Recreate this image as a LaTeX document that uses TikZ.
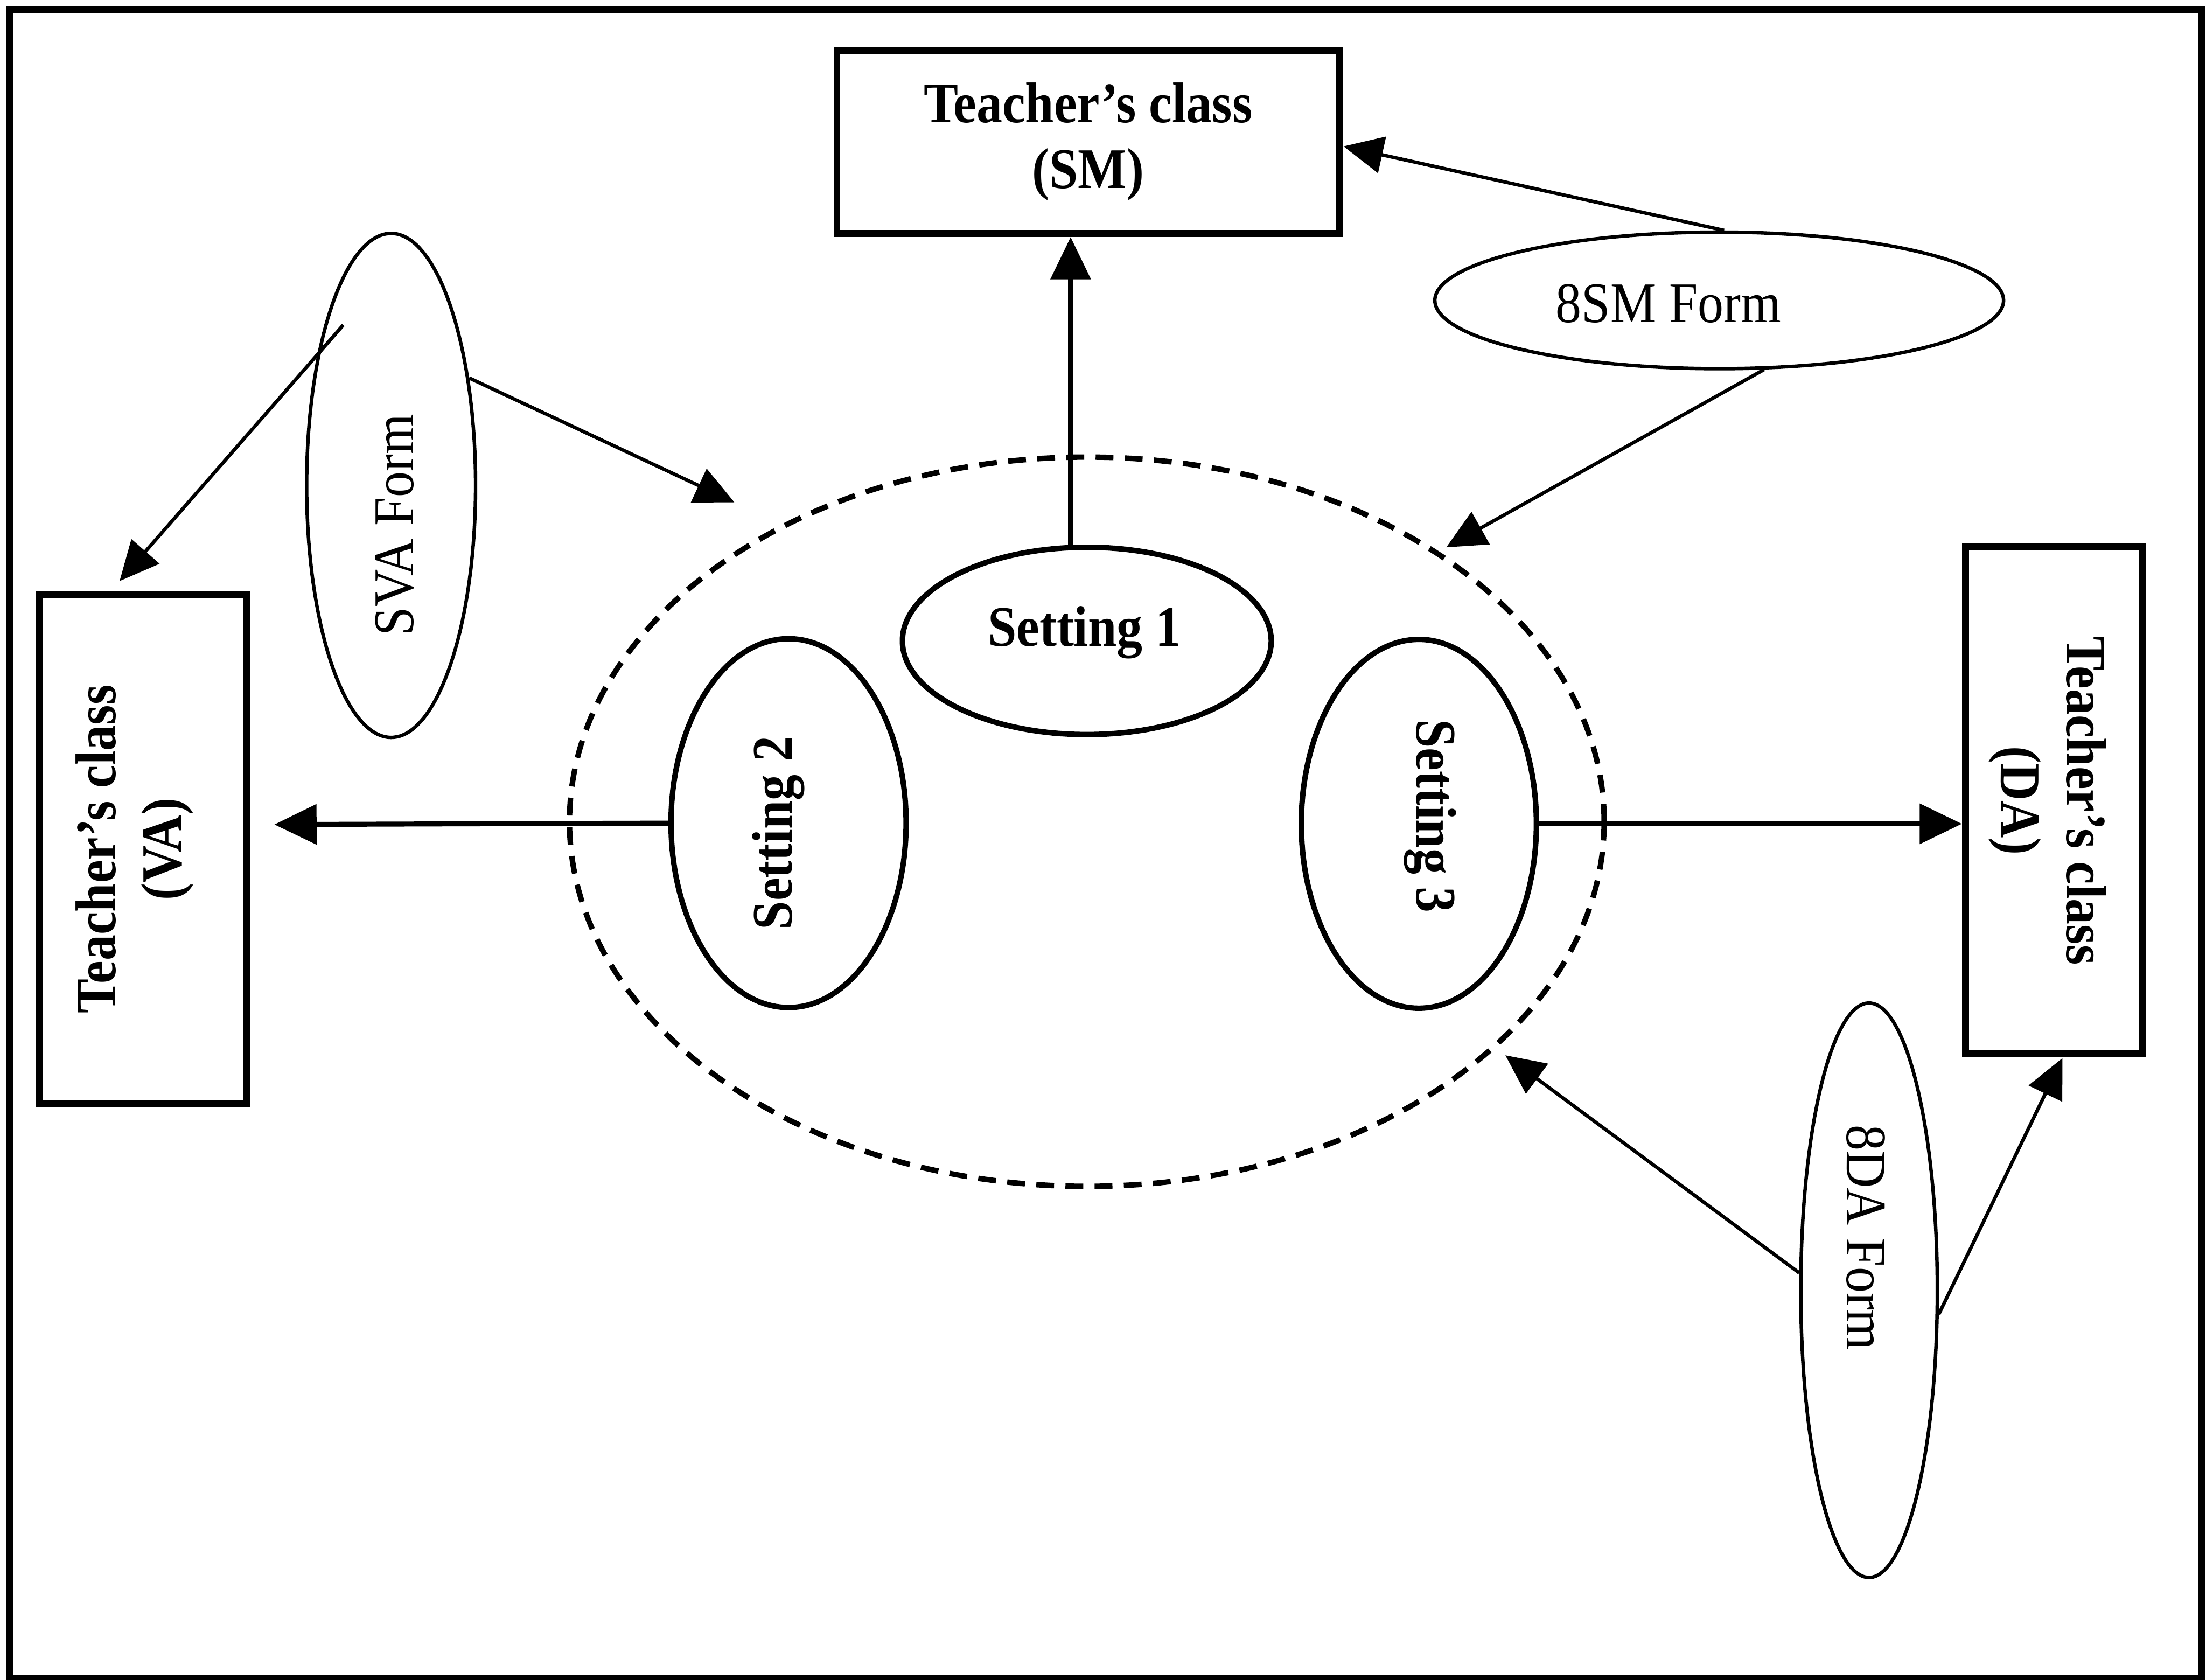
\documentclass[tikz,border=0pt]{standalone}
\usepackage{fontspec}
\setmainfont{Liberation Serif}[FakeStretch=0.9]
\usetikzlibrary{arrows.meta,shapes.geometric}
\newcommand\twoline[2]{\begin{tabular}{@{}c@{}}#1\\#2\end{tabular}}
\begin{document}
\begin{tikzpicture}[x=0.01cm,y=-0.01cm,
  txt/.style={font=\fontsize{11.6pt}{13.3pt}\selectfont},
  boldtxt/.style={font=\fontsize{11.6pt}{13.3pt}\selectfont\bfseries},
  classbox/.style={draw,rectangle,line width=1.4pt,inner sep=0pt},
  classlbl/.style={inner sep=0pt,boldtxt},
  setting/.style={draw,ellipse,line width=1.1pt,inner sep=0pt},
  settinglbl/.style={inner sep=0pt,anchor=base,boldtxt},
  group/.style={draw,ellipse,line width=1.1pt,inner sep=0pt,dash pattern=on 3.6pt off 2.3pt},
  form/.style={draw,ellipse,line width=0.7pt,inner sep=0pt},
  formtext/.style={inner sep=0pt,anchor=base,txt},
  link/.style={line width=1pt,-{Triangle[length=0.3cm,width=0.28cm]}},
  thinlink/.style={line width=0.7pt,-{Triangle[length=0.28cm,width=0.26cm]}}]

% page and frame
\useasboundingbox (0,0) rectangle (1568,1194);
\draw[line width=1.3pt] (7,7) rectangle (1565,1193);

% teachers' classes
\node[classbox,minimum width=3.57cm,minimum height=1.30cm] (sm) at (773.5,101) {};
\node[classlbl] (smlbl) at (773.5,101) {\twoline{Teacher’s class}{(SM)}};
\node[classbox,minimum width=1.47cm,minimum height=3.61cm] (va) at (101.5,603.5) {};
\node[classlbl] (valbl) at (96,603.5) {\rotatebox{90}{\twoline{Teacher’s class}{(VA)}}};
\node[classbox,minimum width=1.26cm,minimum height=3.60cm] (da) at (1460,569) {};
\node[classlbl] (dalbl) at (1455,569) {\rotatebox{-90}{\twoline{Teacher’s class}{(DA)}}};

% the three settings inside the group
\node[group,minimum width=7.35cm,minimum height=5.18cm] (grp) at (772.5,584) {};
\node[setting,minimum width=2.62cm,minimum height=1.33cm] (s1) at (772.5,455.5) {};
\node[settinglbl] (s1lbl) at (771,459) {Setting 1};
\node[setting,minimum width=1.67cm,minimum height=2.62cm] (s2) at (560.5,585) {};
\node[settinglbl,rotate=90] (s2lbl) at (563,592) {Setting 2};
\node[setting,minimum width=1.67cm,minimum height=2.62cm] (s3) at (1008.5,585.5) {};
\node[settinglbl,rotate=-90] (s3lbl) at (1007,580) {Setting 3};

% the forms
\node[form,minimum width=1.20cm,minimum height=3.58cm] (sva) at (278,345) {};
\node[formtext,rotate=90] (svalbl) at (294,373) {SVA Form};
\node[form,minimum width=4.04cm,minimum height=0.97cm] (smf) at (1222,213.5) {};
\node[formtext] (smflbl) at (1186,229) {8SM Form};
\node[form,minimum width=0.97cm,minimum height=4.08cm] (daf) at (1328.5,917) {};
\node[formtext,rotate=-90] (daflbl) at (1313,879.5) {8DA Form};

% arrow end points
\coordinate (c1) at (761,0);
\coordinate (vatip) at (195,586);
\coordinate (smtip) at (955,104);
\coordinate (grptipa) at (522,357);
\coordinate (grptipb) at (1028,389);
\coordinate (grptipc) at (1070,750);
\coordinate (svastart) at (244,231);
\coordinate (vatopt) at (85,413);
\coordinate (datip) at (1466,752);

% settings to classes
\draw[link] (s1.north -| c1) -- (sm.south -| c1);
\draw[link] (s2.west) -- (vatip);
\draw[link] (s3.east) -- (s3.east -| da.west);

% forms to classes and group
\draw[thinlink] (svastart) -- (vatopt);
\draw[thinlink] (sva.54) -- (grptipa);
\draw[thinlink] (smf.86) -- (smtip);
\draw[thinlink] (smf.-57) -- (grptipb);
\draw[thinlink] (daf.166) -- (grptipc);
\draw[thinlink] (daf.-19) -- (datip);
\end{tikzpicture}
\end{document}
